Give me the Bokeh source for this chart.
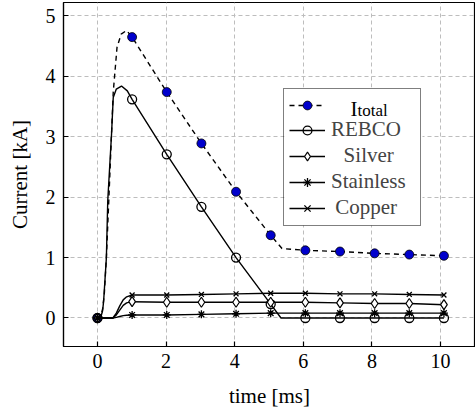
from bokeh.plotting import figure
from bokeh.models import Range1d, Legend, LegendItem, Label, FixedTicker, BoxAnnotation
from bokeh.embed import file_html
from bokeh.resources import INLINE

FONT = "Liberation Serif"

# ---- data ----
t_marks = [0, 1.01, 2.02, 3.03, 4.04, 5.05, 6.06, 7.07, 8.08, 9.09, 10.1]
itotal_marks = [0, 4.65, 3.74, 2.89, 2.09, 1.37, 1.12, 1.10, 1.07, 1.05, 1.03]
rebco_marks = [0, 3.62, 2.71, 1.84, 1.00, 0.23, 0, 0, 0, 0, 0]
silver_marks = [0, 0.27, 0.26, 0.26, 0.26, 0.26, 0.26, 0.25, 0.24, 0.24, 0.22]
stainless_marks = [0, 0.05, 0.05, 0.06, 0.07, 0.08, 0.08, 0.08, 0.08, 0.08, 0.08]
copper_marks = [0, 0.38, 0.38, 0.39, 0.40, 0.41, 0.41, 0.40, 0.40, 0.39, 0.38]

# continuous traces
t_itotal = [0, 0.09, 0.15, 0.2, 0.26, 0.33, 0.41, 0.46, 0.57, 0.69, 0.85, 1.01, 2.02, 3.03, 4.04, 5.05, 5.38, 6.06, 7.07, 8.08, 9.09, 10.1]
i_itotal = [0, 0, 0.15, 0.4, 1.0, 1.94, 3.05, 3.74, 4.48, 4.70, 4.76, 4.65, 3.74, 2.89, 2.09, 1.37, 1.15, 1.12, 1.10, 1.07, 1.05, 1.03]
t_rebco = [0, 0.09, 0.15, 0.18, 0.26, 0.30, 0.41, 0.46, 0.55, 0.70, 0.87, 1.01, 2.02, 3.03, 4.04, 5.05, 5.35, 6.06, 7.07, 8.08, 9.09, 10.1]
i_rebco = [0, 0, 0.12, 0.28, 1.0, 1.94, 3.04, 3.65, 3.79, 3.84, 3.76, 3.62, 2.71, 1.84, 1.00, 0.23, 0, 0, 0, 0, 0, 0]
t_rise = [0, 0.45, 0.55, 0.65, 0.75, 0.85, 1.01, 2.02, 3.03, 4.04, 5.05, 6.06, 7.07, 8.08, 9.09, 10.1]
i_silver = [0, 0, 0.05, 0.13, 0.21, 0.25, 0.27, 0.26, 0.26, 0.26, 0.26, 0.26, 0.25, 0.24, 0.24, 0.22]
i_stainless = [0, 0, 0.01, 0.025, 0.04, 0.045, 0.05, 0.05, 0.06, 0.07, 0.08, 0.08, 0.08, 0.08, 0.08, 0.08]
i_copper = [0, 0, 0.08, 0.2, 0.3, 0.35, 0.38, 0.38, 0.39, 0.40, 0.41, 0.41, 0.40, 0.40, 0.39, 0.38]

x_ticks = [0, 2, 4, 6, 8, 10]
y_ticks = [0, 1, 2, 3, 4, 5]

p = figure(width=475, height=412, output_backend="svg", toolbar_location=None,
           x_range=Range1d(-0.99, 11.02), y_range=Range1d(-0.472, 5.223),
           min_border_left=63, min_border_right=0, min_border_top=2, min_border_bottom=66)

p.background_fill_color = "white"
p.border_fill_color = "white"
p.outline_line_color = "black"
p.outline_line_width = 1.2

for ax in (p.xaxis[0], p.yaxis[0]):
    ax.major_label_text_font = FONT
    ax.major_label_text_font_size = "20px"
    ax.major_label_text_color = "black"
    ax.axis_label_text_font = FONT
    ax.axis_label_text_font_size = "21px"
    ax.axis_label_text_font_style = "normal"
    ax.axis_label_text_color = "black"
    ax.major_tick_in = 5
    ax.major_tick_out = 0
    ax.minor_tick_line_color = None
    ax.axis_line_width = 1.2
    ax.major_tick_line_width = 1.2

p.xaxis.ticker = FixedTicker(ticks=x_ticks)
p.yaxis.ticker = FixedTicker(ticks=y_ticks)
p.xaxis.axis_label = "time [ms]"
p.yaxis.axis_label = "Current [kA]"
p.xaxis.major_label_standoff = 7
p.yaxis.major_label_standoff = 8
p.xaxis.axis_label_standoff = 13
p.yaxis.axis_label_standoff = 11

p.grid.grid_line_color = "#bdbdbd"
p.grid.grid_line_dash = "4 3"
p.grid.grid_line_width = 1

# white panel behind the legend (legend itself is drawn transparent)
p.add_layout(BoxAnnotation(left=221, right=359, bottom=121, top=259,
                           left_units="screen", right_units="screen",
                           bottom_units="screen", top_units="screen",
                           fill_color="white", fill_alpha=1, line_color=None,
                           level="underlay"))

LW = 1.4
r_it_l = p.line(t_itotal, i_itotal, line_color="black", line_width=LW, line_dash="5 4")
r_it_m = p.scatter(t_marks, itotal_marks, marker="circle", size=9, fill_color="#0000cc",
                   line_color="black", line_width=0.8)
r_re_l = p.line(t_rebco, i_rebco, line_color="black", line_width=LW)
r_re_m = p.scatter(t_marks, rebco_marks, marker="circle", size=9, fill_alpha=0,
                   line_color="black", line_width=1.3)
r_si_l = p.line(t_rise, i_silver, line_color="black", line_width=LW)
r_si_m = p.scatter(t_marks, silver_marks, marker="diamond", size=10, fill_color="white",
                   line_color="black", line_width=1.2)
r_st_l = p.line(t_rise, i_stainless, line_color="black", line_width=LW)
r_st_m = p.scatter(t_marks, stainless_marks, marker="asterisk", size=8,
                   line_color="black", line_width=1.3)
r_cu_l = p.line(t_rise, i_copper, line_color="black", line_width=LW)
r_cu_m = p.scatter(t_marks, copper_marks, marker="x", size=7,
                   line_color="black", line_width=1.3)

TS = "\u2009"
legend = Legend(items=[
    LegendItem(label=" ", renderers=[r_it_l, r_it_m]),
    LegendItem(label="REBCO", renderers=[r_re_l, r_re_m]),
    LegendItem(label=TS * 3 + "Silver", renderers=[r_si_l, r_si_m]),
    LegendItem(label="Stainless", renderers=[r_st_l, r_st_m]),
    LegendItem(label=TS * 1 + "Copper", renderers=[r_cu_l, r_cu_m]),
], location=(220, 120))
legend.label_text_font = FONT
legend.label_text_font_size = "21px"
legend.border_line_color = "black"
legend.border_line_width = 1.2
legend.background_fill_alpha = 0
legend.padding = 5
legend.spacing = 1
legend.margin = 0
legend.glyph_width = 36
legend.glyph_height = 22
legend.label_height = 22
legend.label_standoff = 6
legend.label_width = 84
p.add_layout(legend)

# I_total label drawn as main letter + subscript
p.add_layout(Label(x=287, y=238, x_units="screen", y_units="screen", text="I",
                   text_font=FONT, text_font_size="21px", text_baseline="alphabetic",
                   text_color="black", level="overlay"))
p.add_layout(Label(x=294, y=236.5, x_units="screen", y_units="screen", text="total",
                   text_font=FONT, text_font_size="17px", text_baseline="alphabetic",
                   text_color="black", level="overlay"))

open("out.html", "w").write(file_html(p, INLINE))
